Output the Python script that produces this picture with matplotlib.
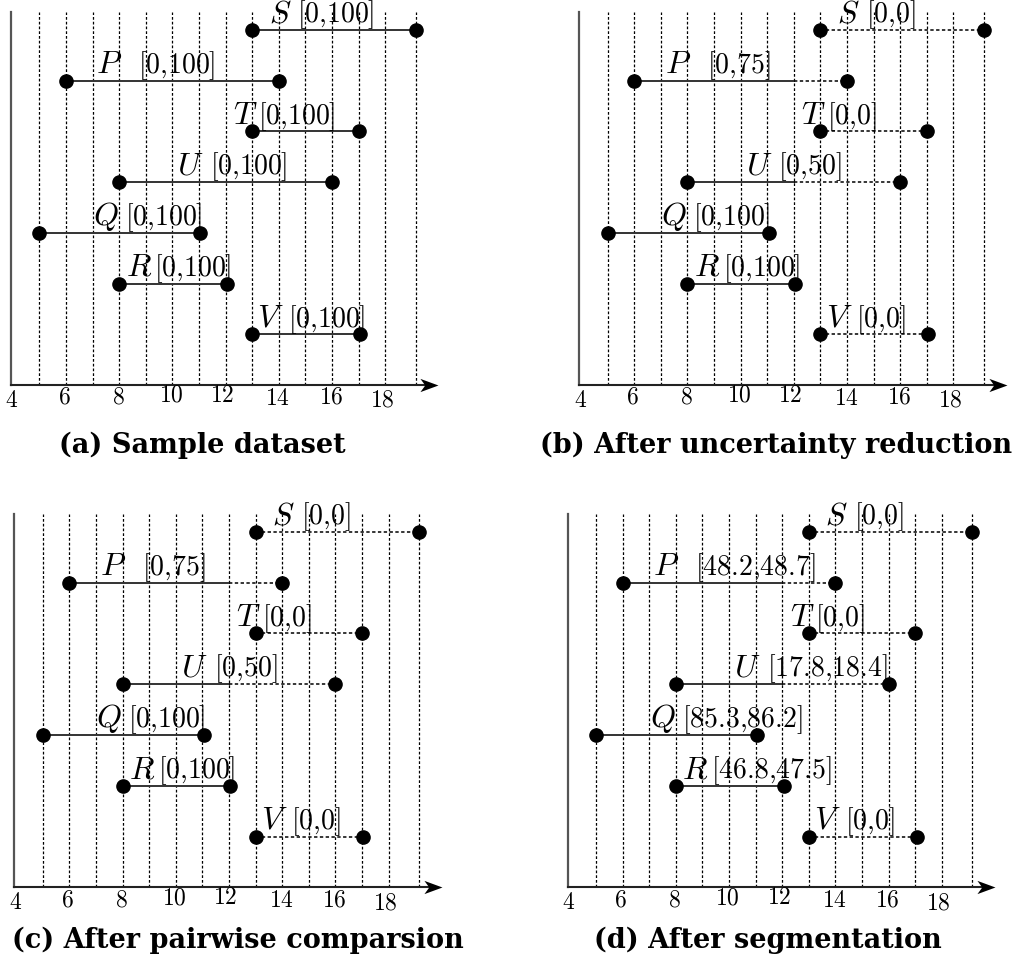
import matplotlib
matplotlib.use("Agg")
import matplotlib.pyplot as plt
from matplotlib.path import Path

plt.rcParams['mathtext.fontset'] = 'cm'

# ---------------- data ----------------
names = ['S', 'P', 'T', 'U', 'Q', 'R', 'V']
rows = [6, 5, 4, 3, 2, 1, 0]
starts = [13, 6, 13, 8, 5, 8, 13]
ends = [19.15, 14, 17, 16, 11.05, 12.05, 17.05]
grid_x = [5, 6, 7, 8, 9, 10, 11, 12, 13, 14, 15, 16, 17, 18, 19.15]
tick_vals = [4, 6, 8, 10, 12, 14, 16, 18]

titles = ['(a) Sample dataset', '(b) After uncertainty reduction',
          '(c) After pairwise comparsion', '(d) After segmentation']

bounds_a = ['[0,100]'] * 7
bounds_b = ['[0,0]', '[0,75]', '[0,0]', '[0,50]', '[0,100]', '[0,100]', '[0,0]']
bounds_c = ['[0,0]', '[0,75]', '[0,0]', '[0,50]', '[0,100]', '[0,100]', '[0,0]']
bounds_d = ['[0,0]', '[48.2,48.7]', '[0,0]', '[17.8,18.4]', '[85.3,86.2]',
            '[46.8,47.5]', '[0,0]']

# end of the solid (certain) part of each interval; the rest is dotted
solid_a = [19.15, 14, 17, 16, 11.05, 12.05, 17.05]
solid_b = [13, 12, 13, 12, 11.05, 12.05, 13]
solid_c = [13, 12, 13, 12, 11.05, 12.05, 13]
solid_d = [13, 12, 13, 12, 11.05, 12.05, 13]

panel_bounds = [bounds_a, bounds_b, bounds_c, bounds_d]
panel_solid = [solid_a, solid_b, solid_c, solid_d]

# ---------------- layout ----------------
W, H = 1019, 962
# (left px, right px, top px, bottom px) for data range x 4..20, y -1..6.35
ax_px = [(12.7, 438.3, 13, 386), (581, 1006.7, 13, 386),
         (16.2, 441.7, 515, 888.3), (569.5, 995, 515, 888.3)]
letter_x = [14.05, 7.64, 12.74, 10.69, 7.5, 8.74, 13.7]
bracket_x = [14.7, 8.72, 13.24, 11.42, 8.22, 9.33, 14.35]
tick_nudge = [-0.03, -0.07, -0.04, -0.05, -0.13, -0.03, -0.04, -0.12]
tick_dy = [14, 11, 11, 9, 9, 12, 11, 14]
title_pos = [(202, 453, 'center'), (776, 453, 'center'),
             (12, 948, 'left'), (767.5, 948, 'center')]

fig = plt.figure(figsize=(W / 100, H / 100), dpi=100)

arrow_path = Path([(0, 0), (-1.5, 0.55), (-1.1, 0), (-1.5, -0.55), (0, 0)],
                  [Path.MOVETO, Path.LINETO, Path.LINETO, Path.LINETO, Path.CLOSEPOLY])

dot_style = (0, (2.2, 1.6))

for k in range(4):
    l, r, t, b = ax_px[k]
    ax = fig.add_axes([l / W, 1 - b / H, (r - l) / W, (b - t) / H])
    ax.set_xlim(4, 20)
    ax.set_ylim(-1, 6.35)
    ax.axis('off')

    # vertical dotted grid
    ax.vlines(grid_x, -1, 6.35, colors='black', linestyles=dot_style,
              linewidth=0.9, clip_on=False, zorder=1)
    # axes
    ax.plot([3.93, 3.93], [-1, 6.35], color='#555555', lw=1.6, clip_on=False, zorder=2)
    ax.plot([3.93, 19.6], [-1, -1], color='#222222', lw=1.5, clip_on=False, zorder=2)
    ax.plot([20], [-1], marker=arrow_path, markersize=26, color='black',
            markeredgewidth=0, clip_on=False, zorder=3)

    # tick labels
    for v, nx, dy in zip(tick_vals, tick_nudge, tick_dy):
        ax.annotate(r'$%d$' % v, xy=(v + nx, -1), xytext=(0, -dy * 0.72),
                    textcoords='offset points', ha='center', va='center',
                    fontsize=17, annotation_clip=False)

    bounds = panel_bounds[k]
    solid = panel_solid[k]
    for i in range(len(names)):
        y = rows[i]
        s, e, m = starts[i], ends[i], solid[i]
        if m > s:
            ax.plot([s, m], [y, y], color='#333333', lw=1.4, clip_on=False, zorder=3)
        if e > m:
            ax.plot([m, e], [y, y], color='black', lw=1.1, linestyle=dot_style,
                    clip_on=False, zorder=3)
        ax.plot([s, e], [y, y], linestyle='none', marker='o', markersize=9.5,
                color='black', clip_on=False, zorder=4)
        ax.text(letter_x[i], y + 0.17, r'$%s$' % names[i], ha='center',
                va='baseline', fontsize=23, zorder=5)
        txt = bounds[i].replace(',', '{,}')
        ax.text(bracket_x[i], y + 0.17, r'$%s$' % txt, ha='left',
                va='baseline', fontsize=20, zorder=5)

    tx, ty, ha = title_pos[k]
    fig.text(tx / W, 1 - ty / H, titles[k], ha=ha, va='baseline',
             fontsize=19.5, fontweight='bold', family='DejaVu Serif')

fig.savefig('out.png', dpi=100)
